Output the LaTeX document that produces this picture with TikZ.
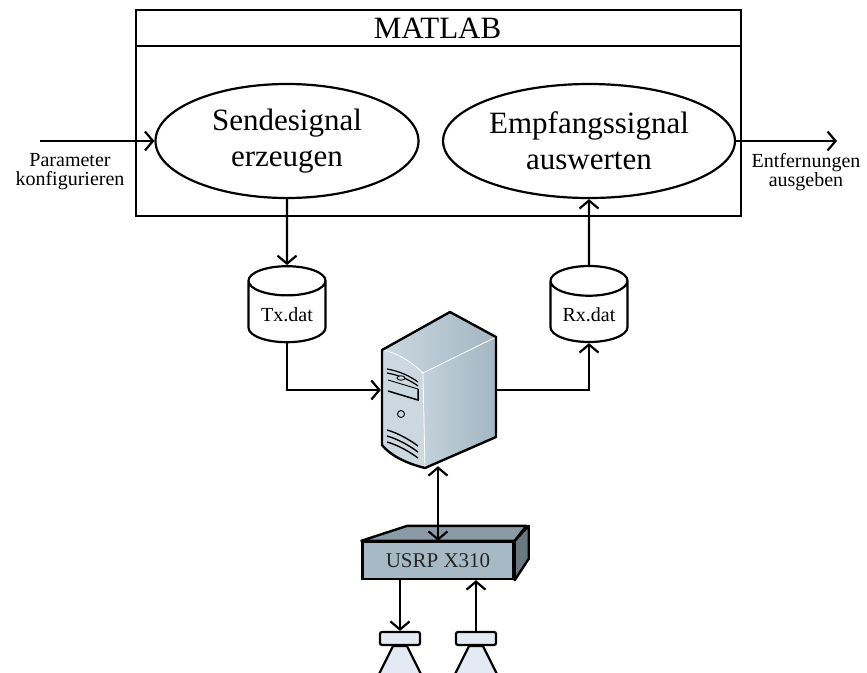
\documentclass[tikz,border=0pt]{standalone}
\usepackage{fontspec}
\setmainfont{Liberation Serif}
\usetikzlibrary{positioning, arrows.meta, shapes.geometric}

\definecolor{srvlight}{HTML}{CBD8E0}
\definecolor{srvdark}{HTML}{A3B6C2}
\definecolor{usrpfront}{HTML}{A6B9C5}
\definecolor{usrptop}{HTML}{8B9BA6}
\definecolor{usrpside}{HTML}{6A7882}
\definecolor{antfill}{HTML}{E4EAF4}

\tikzset{
  task/.style={ellipse, draw, line width=2.2pt, minimum width=263pt, minimum height=114pt,
    align=center, font=\fontsize{31}{36}\selectfont},
  datfile/.style={cylinder, shape border rotate=90, draw, line width=2.2pt, aspect=0.5,
    minimum width=77pt, minimum height=76pt, font=\fontsize{20}{22}\selectfont},
  conn/.style={line width=2.2pt, -{Straight Barb[length=8pt,width=19pt,line width=2.2pt]}},
  bothway/.style={line width=2.2pt, {Straight Barb[length=8pt,width=19pt,line width=2.2pt]}-{Straight Barb[length=8pt,width=19pt,line width=2.2pt]}},
  iotext/.style={align=center, font=\fontsize{20}{19}\selectfont},
  antenna/.style={draw, line width=2.2pt, fill=antfill, rounded corners=2pt,
    minimum width=40pt, minimum height=13pt, inner sep=0pt}
}

\begin{document}
\begin{tikzpicture}[x=1pt, y=-1pt]
\useasboundingbox (0,0) rectangle (867,672);

% MATLAB frame with title row
\node[draw, line width=2.4pt, minimum width=605pt, minimum height=206pt, anchor=north west, inner sep=0pt] (matlab) at (135,9) {};
\draw[line width=2.4pt] (matlab.north west) ++(0,37) -- ++(605,0);
\node[font=\fontsize{31}{36}\selectfont] (title) at (437.5,28) {MATLAB};

\node[task] (send) at (287,141) {Sendesignal\\erzeugen};
\node[task] (recv) at (589,141) {Empfangssignal\\auswerten};

% inputs and outputs
\coordinate (in) at (40,141);
\coordinate (out) at (837,141);
\node[iotext] (intext) at (70,172) {Parameter\\konfigurieren};
\node[iotext] (outtext) at (806,172) {Entfernungen\\ausgeben};
\draw[conn] (in) -- (send.west);
\draw[conn] (recv.east) -- (out);

% data files
\node[datfile] (tx) at (287,315) {Tx.dat};
\node[datfile] (rx) at (589,315) {Rx.dat};

% host computer
\node[minimum width=114pt, minimum height=152pt, inner sep=0pt] (server) at (438,390) {};
\fill[srvlight] (382,350) .. controls (396,352) and (412,362) .. (423,373)
  -- (425,468) .. controls (405,463) and (390,455) .. (382,445) -- cycle;
\shade[left color=srvlight, right color=srvdark] (382,350) -- (450,312) -- (496,337) -- (423,373)
  .. controls (412,362) and (396,352) .. (382,350) -- cycle;
\shade[left color=srvlight!80!srvdark, right color=srvdark] (423,373) -- (496,337) -- (496,437) -- (425,468) -- cycle;
\draw[white, line width=0.8pt] (382,350) .. controls (396,352) and (412,362) .. (423,373)
  -- (496,337) (423,373) -- (425,468);
\draw[line width=2.4pt, line join=round] (382,350) -- (450,312) -- (496,337) -- (496,437) -- (425,468)
  .. controls (405,463) and (390,455) .. (382,445) -- cycle;
% front panel details
\draw[line width=1.2pt] (387,369) .. controls (399,371) and (410,376) .. (418,382)
  (387,373) .. controls (399,375) and (410,380) .. (418,386);
\draw[line width=0.9pt, fill=srvlight] (401,378) ellipse (4pt and 2.2pt);
\draw[line width=0.9pt] (388,380) -- (418,389);
\draw[line width=1.5pt] (418,389) -- (418,400) -- (388,391);
\draw[line width=0.9pt] (401,414) circle (3.5pt);
\foreach \dy in {0,6,12}
  \draw[line width=1.4pt] (387,430+\dy) .. controls (398,433+\dy) and (410,440+\dy) .. (418,446+\dy);

% USRP device
\node[draw, line width=2.4pt, fill=usrpfront, minimum width=151pt, minimum height=37pt, inner sep=0pt,
  font=\fontsize{21}{24}\selectfont, text=black!85] (usrp) at (438,560.5) {USRP X310};
\draw[line width=2.4pt, line join=round, fill=usrptop] (usrp.north west) -- ++(46,-15) -- ++(119,0) -- (usrp.north east) -- cycle;
\draw[line width=2.4pt, line join=round, fill=usrpside] (usrp.north east) -- ++(14,-15) -- ++(0,33) -- (usrp.south east) -- cycle;

% antennas
\node[antenna] (ant1) at (400,638.5) {};
\node[antenna] (ant2) at (476,638.5) {};
\draw[line width=2.2pt, fill=antfill] (ant1.south) ++(-7,0) -- ++(14,0) -- ++(15,30) -- ++(-44,0) -- cycle;
\draw[line width=2.2pt, fill=antfill] (ant2.south) ++(-7,0) -- ++(14,0) -- ++(15,30) -- ++(-44,0) -- cycle;

% connections
\draw[conn] (send.south) -- (tx.north);
\draw[conn] (rx.north) -- (recv.south);
\draw[conn] (tx.south) |- (server.west);
\draw[conn] (server.east) -| (rx.south);
\draw[bothway] (server.south) -- (usrp.north);
\draw[conn] (ant1.north |- usrp.south) -- (ant1.north);
\draw[conn] (ant2.north) -- (ant2.north |- usrp.south);

\end{tikzpicture}
\end{document}
